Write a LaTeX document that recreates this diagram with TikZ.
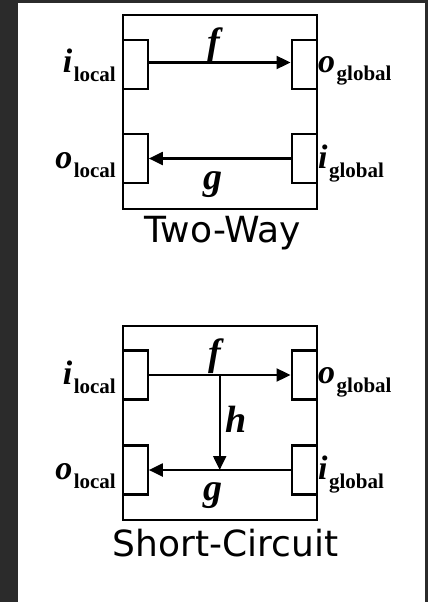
\documentclass[tikz,border=0pt]{standalone}
\usepackage{fontspec}
\setmainfont{Liberation Serif}
\newfontfamily\titlefont{DejaVu Sans}
\usetikzlibrary{arrows.meta,calc}
\definecolor{bgdark}{HTML}{2B2B2B}
\newcommand{\subtxt}[1]{\kern1.5pt\raisebox{-9pt}{\fontsize{21}{22}\selectfont\bfseries\upshape #1}}
\begin{document}
\begin{tikzpicture}[x=1pt,y=-1pt,
 frame/.style={draw=black,line width=2.3pt,minimum width=194pt,minimum height=194pt,inner sep=0pt},
 port/.style={draw=black,line width=2.3pt,minimum width=25pt,minimum height=49pt,inner sep=0pt,fill=white},
 conn/.style={line width=2.1pt,-{Triangle[length=14pt,width=13pt]}},
 fn/.style={font=\fontsize{38}{40}\selectfont\bfseries\itshape,inner sep=0pt,anchor=base},
 var/.style={font=\fontsize{34}{36}\selectfont\bfseries\itshape,inner sep=0pt},
 ttl/.style={font=\titlefont\fontsize{36}{40}\selectfont,inner sep=0pt,anchor=base}]
\useasboundingbox (0,0) rectangle (428,602);
\fill[bgdark] (0,0) rectangle (428,602);
\fill[white] (18,3) rectangle (425,602);

% ---------- Two-Way ----------
\node[frame] (F1) at (219.7,112) {};
\node[port,anchor=north west] (il1) at ($(F1.north west)+(0,25)$) {};
\node[port,anchor=north east] (og1) at ($(F1.north east)+(0,25)$) {};
\node[port,anchor=north west] (ol1) at ($(F1.north west)+(0,119)$) {};
\node[port,anchor=north east] (ig1) at ($(F1.north east)+(0,119)$) {};
\draw[conn] ([yshift=2pt]il1.east) -- ([yshift=2pt]og1.west);
\draw[conn] (ig1.west) -- (ol1.east);
\node[fn] (f1) at (214,54.5) {f};
\node[fn] (g1) at (213,189.5) {g};
\node[var,anchor=base east] (vil1) at (116,73) {i\subtxt{local}};
\node[var,anchor=base east] (vol1) at (116,168) {o\subtxt{local}};
\node[var,anchor=base west] (vog1) at (318,72) {o\subtxt{global}};
\node[var,anchor=base west] (vig1) at (318,168) {i\subtxt{global}};
\node[ttl] (t1) at (223,242) {Two-Way};

% ---------- Short-Circuit ----------
\node[frame] (F2) at (219.7,423) {};
\node[port,anchor=north west] (il2) at ($(F2.north west)+(0,24.5)$) {};
\node[port,anchor=north east] (og2) at ($(F2.north east)+(0,24.5)$) {};
\node[port,anchor=north west] (ol2) at ($(F2.north west)+(0,119.5)$) {};
\node[port,anchor=north east] (ig2) at ($(F2.north east)+(0,119.5)$) {};
\draw[conn] (il2.east) -- (og2.west);
\draw[conn] (ig2.west) -- (ol2.east);
\coordinate (hs2) at ($(il2.east)!0.5!(og2.west)$);
\draw[conn] (hs2) -- (hs2 |- ig2.west);
\node[fn] (f2) at (215,365.5) {f};
\node[fn] (h2) at (236,432) {h};
\node[fn] (g2) at (213,500.5) {g};
\node[var,anchor=base east] (vil2) at (116,384) {i\subtxt{local}};
\node[var,anchor=base east] (vol2) at (116,479) {o\subtxt{local}};
\node[var,anchor=base west] (vog2) at (318,383) {o\subtxt{global}};
\node[var,anchor=base west] (vig2) at (318,479) {i\subtxt{global}};
\node[ttl] (t2) at (225.5,556) {Short-Circuit};
\end{tikzpicture}
\end{document}
